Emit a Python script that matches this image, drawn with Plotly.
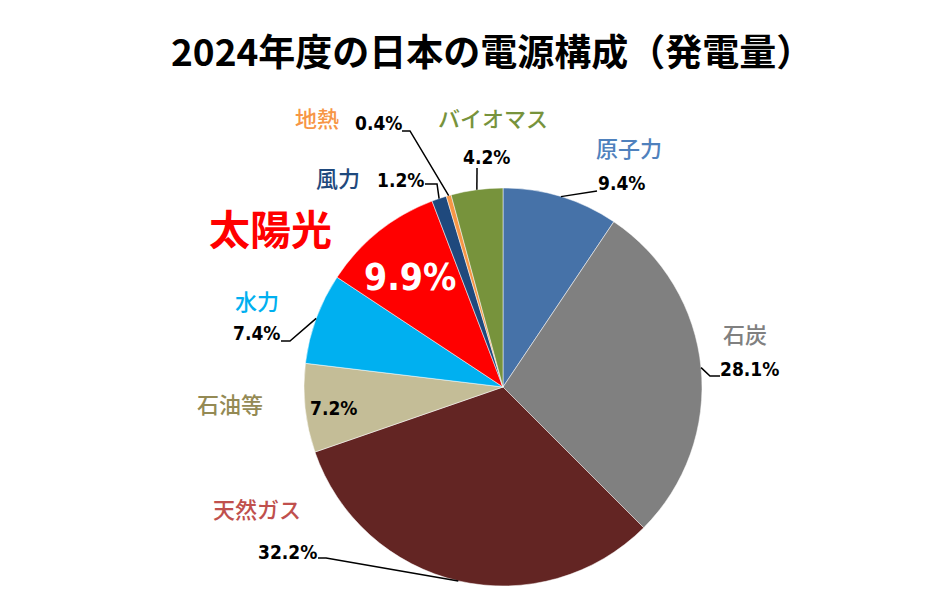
import math
import plotly.graph_objects as go

W, H = 939, 599
OFF = 8  # default page margin in front of the figure

title = "2024年度の日本の電源構成（発電量）"
sources = ["原子力", "石炭", "天然ガス", "石油等", "水力", "太陽光", "風力", "地熱", "バイオマス"]
shares = [9.4, 28.1, 32.2, 7.2, 7.4, 9.9, 1.2, 0.4, 4.2]
slice_colors = ["#4672a8", "#808080", "#632523", "#c4bd97", "#00b0f0",
                "#ff0000", "#1f497d", "#f79646", "#77933c"]
name_colors = ["#4f81bd", "#808080", "#c0504d", "#948a54", "#00b0f0",
               "#ff0000", "#1f497d", "#f79646", "#77933c"]

# pie placement in screen pixels
CX, CY, R = 503, 387, 199

# label placement in screen pixels: name centre, percent centre, leader start points
label_pos = {
    "原子力":   dict(name=(629, 147), pct=(621, 183), lead=[(597, 191)]),
    "石炭":     dict(name=(745, 333), pct=(749, 369), lead=[(720, 376), (710, 376)]),
    "天然ガス": dict(name=(257, 508), pct=(287, 552), lead=[(318, 558), (326, 558)]),
    "石油等":   dict(name=(230, 403), pct=(333, 408), lead=None),
    "水力":     dict(name=(257, 300), pct=(256, 333), lead=[(281, 341), (290, 341)]),
    "太陽光":   dict(name=(270, 227), pct=(410, 277), lead=None),
    "風力":     dict(name=(338, 177), pct=(400, 180), lead=[(425, 184), (437, 184)]),
    "地熱":     dict(name=(317, 117), pct=(378, 123), lead=[(402, 131), (410, 131)]),
    "バイオマス": dict(name=(493, 117), pct=(486, 157), lead=[(477, 168)]),
}


def px(x):
    return (x - OFF) / W


def py(y):
    return 1 - (y - OFF) / H


fig = go.Figure()

fig.add_trace(
    go.Pie(
        labels=sources,
        values=shares,
        sort=False,
        direction="clockwise",
        rotation=0,
        marker=dict(colors=slice_colors, line=dict(color="rgba(255,255,255,0.5)", width=1)),
        textinfo="none",
        hoverinfo="label+percent",
        showlegend=False,
        domain=dict(x=[px(CX - R), px(CX + R)], y=[py(CY + R), py(CY - R)]),
    )
)

pct_font = "DejaVu Sans Condensed, Liberation Sans Narrow, sans-serif"
cjk_font = "Noto Sans CJK JP, sans-serif"


def label(x, y, text, font):
    fig.add_annotation(
        x=px(x), y=py(y), xref="paper", yref="paper", text=text,
        xanchor="center", yanchor="middle", showarrow=False, font=font,
    )


cum = 0
for name, share, ncol in zip(sources, shares, name_colors):
    pos = label_pos[name]
    mid = 2 * math.pi * (cum + share / 2) / 100
    cum += share
    ex = CX + R * math.sin(mid)
    ey = CY - R * math.cos(mid)

    big = name == "太陽光"
    label(pos["name"][0], pos["name"][1],
          "<b>%s</b>" % name if big else name,
          dict(family=cjk_font, size=41 if big else 22, color=ncol, weight=700 if big else 500))
    label(pos["pct"][0], pos["pct"][1], "<b>%.1f%%</b>" % share,
          dict(family=pct_font, size=37 if big else 19,
               color="white" if big else "black"))
    if pos["lead"]:
        pts = pos["lead"] + [(ex, ey)]
        path = "M " + " L ".join("%.4f,%.4f" % (px(a), py(b)) for a, b in pts)
        fig.add_shape(type="path", path=path, xref="paper", yref="paper",
                      line=dict(color="black", width=1.5))

# the fullwidth closing bracket leaves blank space on the right, so the box sits right of the ink
label(492, 50, "<b>%s</b>" % title, dict(family=cjk_font, size=37, color="black"))

fig.update_layout(
    width=W, height=H,
    margin=dict(l=0, r=0, t=0, b=0),
    paper_bgcolor="white",
    plot_bgcolor="white",
)

fig.write_html("out.html")
